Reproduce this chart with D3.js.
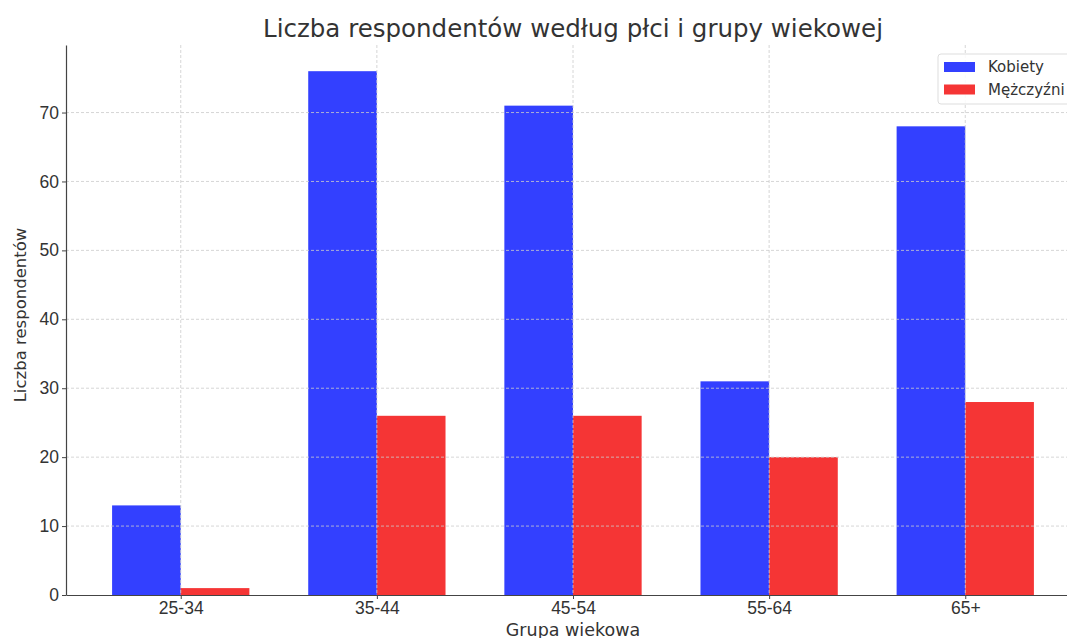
<!DOCTYPE html>
<html lang="pl">
<head>
<meta charset="utf-8">
<title>Liczba respondentów według płci i grupy wiekowej</title>
<style>
  body { margin: 0; background: #fff; }
  svg { display: block; font-family: "DejaVu Sans", sans-serif; }
  .tick text { fill: #333; font-size: 17.5px; }
  .tick line { stroke: #444; }
  .domain { stroke: #444; stroke-width: 1.2; }
  .grid line { stroke: #ccc; stroke-dasharray: 3,2; stroke-width: 0.8; }
</style>
</head>
<body>
<script src="https://d3js.org/d3.v7.min.js"></script>
<script>
  // data
  const groups = ["25-34", "35-44", "45-54", "55-64", "65+"];
  const kobiety = [13, 76, 71, 31, 68];
  const mezczyzni = [1, 26, 26, 20, 28];
  const seriesNames = ["Kobiety", "Mężczyźni"];
  const yTicks = [0, 10, 20, 30, 40, 50, 60, 70];

  const W = 1067, H = 638;
  const mLeft = 66, mRight = 1080, mTop = 45, mBottom = 595;
  const colors = ["#3340ff", "#f53535"];
  const barW = 0.35;

  const svg = d3.select("body").append("svg")
      .attr("width", W).attr("height", H);

  // x in "category units", like matplotlib
  const x = d3.scaleLinear()
      .domain([-0.585, groups.length - 1 + 0.585])
      .range([mLeft, mRight]);
  const y = d3.scaleLinear()
      .domain([0, d3.max(kobiety) * 1.05])
      .range([mBottom, mTop]);

  const series = [kobiety, mezczyzni];
  const offsets = [-barW, 0];

  // bars
  series.forEach((vals, s) => {
    svg.append("g").selectAll("rect")
      .data(vals)
      .enter().append("rect")
      .attr("x", (d, i) => x(i + offsets[s]))
      .attr("width", x(barW) - x(0))
      .attr("y", d => y(d))
      .attr("height", d => mBottom - y(d))
      .attr("fill", colors[s]);
  });

  // grid on top of bars
  const grid = svg.append("g").attr("class", "grid");
  grid.selectAll(".gy").data(yTicks.slice(1)).enter().append("line")
      .attr("x1", mLeft).attr("x2", mRight)
      .attr("y1", d => y(d)).attr("y2", d => y(d));
  grid.selectAll(".gx").data(groups).enter().append("line")
      .attr("x1", (d, i) => x(i)).attr("x2", (d, i) => x(i))
      .attr("y1", mTop).attr("y2", mBottom);

  // axes
  svg.append("g")
      .attr("transform", "translate(0," + mBottom + ")")
      .call(d3.axisBottom(x).tickValues(d3.range(groups.length))
            .tickFormat(i => groups[i]).tickSize(4).tickSizeOuter(0).tickPadding(3));
  svg.append("g")
      .attr("transform", "translate(" + mLeft + ",0)")
      .call(d3.axisLeft(y).tickValues(yTicks).tickSize(4).tickSizeOuter(0).tickPadding(3));

  // title and labels
  svg.append("text")
      .attr("x", (mLeft + mRight) / 2).attr("y", 37)
      .attr("text-anchor", "middle")
      .style("font-size", "24.5px").style("fill", "#333")
      .text("Liczba respondentów według płci i grupy wiekowej");

  svg.append("text")
      .attr("x", (mLeft + mRight) / 2).attr("y", 636)
      .attr("text-anchor", "middle")
      .style("font-size", "17.5px").style("fill", "#333")
      .text("Grupa wiekowa");

  svg.append("text")
      .attr("transform", "translate(26," + ((mTop + mBottom) / 2 - 5) + ") rotate(-90)")
      .attr("text-anchor", "middle")
      .style("font-size", "16.5px").style("fill", "#333")
      .text("Liczba respondentów");

  // legend
  const lg = svg.append("g").attr("transform", "translate(938,54)");
  lg.append("rect")
      .attr("width", 140).attr("height", 50).attr("rx", 3)
      .attr("fill", "#fff").attr("fill-opacity", 0.85)
      .attr("stroke", "#ddd");
  seriesNames.forEach((name, i) => {
    lg.append("rect")
        .attr("x", 6).attr("y", 8 + i * 22.5)
        .attr("width", 31).attr("height", 10)
        .attr("fill", colors[i]);
    lg.append("text")
        .attr("x", 50).attr("y", 18 + i * 23)
        .style("font-size", "15px").style("fill", "#333")
        .text(name);
  });
</script>
</body>
</html>
